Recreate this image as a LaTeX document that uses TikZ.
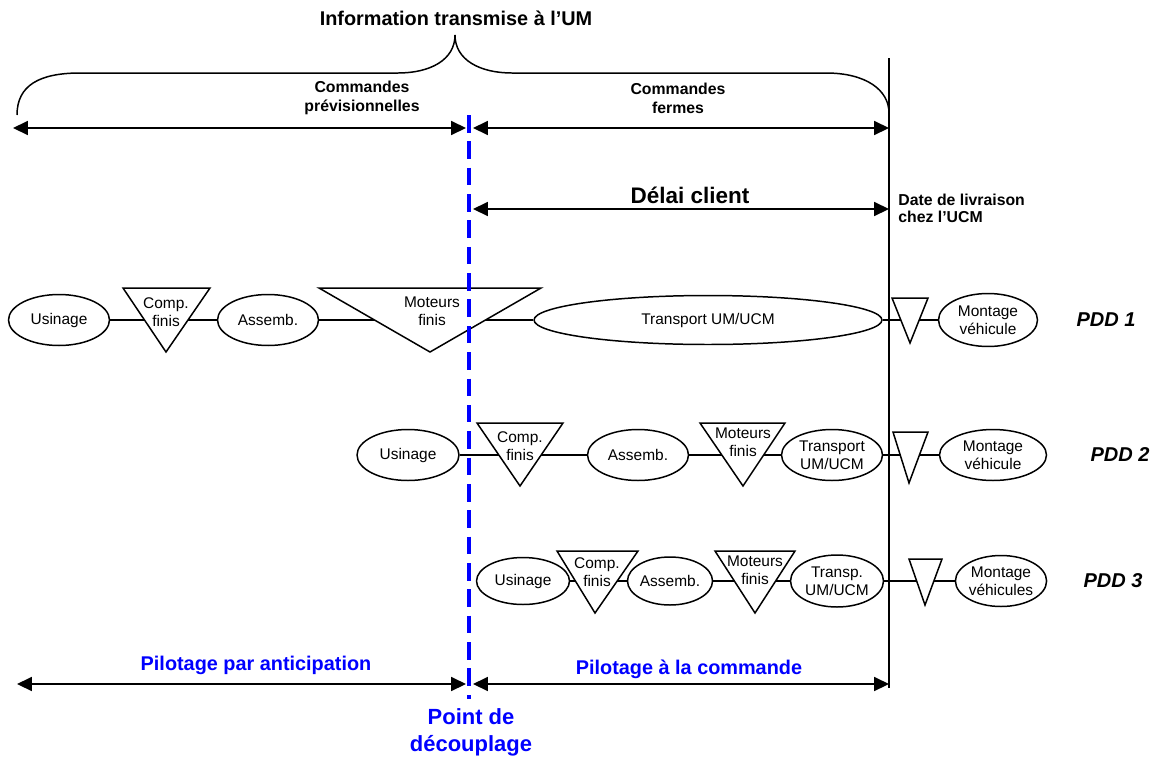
\documentclass[tikz,border=0pt]{standalone}
\usepackage{fontspec}
\setmainfont{Liberation Sans}
\usetikzlibrary{arrows.meta,positioning,calc,backgrounds,shapes.geometric}

\tikzset{
  proc/.style={draw, ellipse, inner sep=0pt, line width=0.85pt, align=center,
    font=\fontsize{8.8}{10}\selectfont},
  stock/.style={draw, fill=white, line width=0.85pt},
  stocktxt/.style={inner sep=0pt, align=center, font=\fontsize{8.8}{10}\selectfont},
  link/.style={line width=0.85pt},
  span/.style={line width=0.85pt, {Triangle[length=8.5pt,width=8pt]}-{Triangle[length=8.5pt,width=8pt]}},
  decoup/.style={blue, line width=1.8pt, dash pattern=on 10pt off 5pt},
  hdr/.style={inner sep=0pt, align=center, font=\bfseries\fontsize{9}{10.8}\selectfont},
  pdd/.style={inner sep=0pt, font=\bfseries\itshape\fontsize{11.4}{13}\selectfont},
  pilot/.style={inner sep=0pt, text=blue, font=\bfseries\fontsize{11.3}{13}\selectfont},
}

\begin{document}
\begin{tikzpicture}[x=0.02cm, y=-0.02cm]
\useasboundingbox (0,0) rectangle (1156,758);

% accolade et textes du haut
\node[inner sep=0pt, font=\bfseries\fontsize{11.3}{13}\selectfont] (info) at (456,18) {Information transmise à l’UM};
\draw[link]
  (17,115) .. controls (17,85) and (40,73) .. (80,73) -- (398,73)
  .. controls (430,73) and (455,60) .. (455,35)
  .. controls (455,60) and (480,73) .. (512,73) -- (826,73)
  .. controls (866,73) and (889,90) .. (889,113);
\node[hdr] (cprev) at (362,98) {Commandes\\prévisionnelles};
\node[hdr] (cferm) at (678,98) {Commandes\\fermes};

% ligne de la date de livraison
\coordinate (ucmT) at (889,58);
\coordinate (ucmB) at (889,688);
\draw[line width=0.7pt] (ucmT) -- (ucmB);

% fleches horizontales
\coordinate (hA) at (13,128);  \coordinate (hB) at (466,128);
\coordinate (hC) at (473,128); \coordinate (hD) at (889,128);
\draw[span] (hA) -- (hB);
\draw[span] (hC) -- (hD);
\coordinate (dA) at (473,209); \coordinate (dB) at (889,209);
\draw[span] (dA) -- (dB);
\node[inner sep=0pt, font=\bfseries\fontsize{12.8}{14}\selectfont] (delai) at (690,195) {Délai client};
\node[inner sep=0pt, anchor=west, align=left, font=\bfseries\fontsize{9}{9.7}\selectfont] (livr) at (898,208) {Date de livraison\\chez l’UCM};
\coordinate (bA) at (17,684);  \coordinate (bB) at (466,684);
\coordinate (bC) at (473,684); \coordinate (bD) at (889,684);
\draw[span] (bA) -- (bB);
\draw[span] (bC) -- (bD);
\node[pilot] (antic) at (256,665) {Pilotage par anticipation};
\node[pilot] (acmd) at (689,669) {Pilotage à la commande};

% PDD 1
\filldraw[stock] (123,288) -- (210,288) -- (166,352) -- cycle;
\node[stocktxt] (c1) at (166,312) {Comp.\\finis};
\filldraw[stock] (319,288) -- (541,288) -- (430,352) -- cycle;
\node[stocktxt] (m1) at (432,311) {Moteurs\\finis};
\filldraw[stock] (892,298) -- (928,298) -- (910,343) -- cycle;
\node[proc, minimum width=2.02cm, minimum height=1.02cm] (us1) at (59,320) {Usinage};
\node[proc, minimum width=2.02cm, minimum height=1.02cm] (as1) at (268,320) {Assemb.};
\node[proc, minimum width=6.96cm, minimum height=0.98cm] (tr1) at (708,320) {Transport UM/UCM};
\node[proc, minimum width=1.98cm, minimum height=1.06cm] (mo1) at (988,320) {Montage\\véhicule};
\node[pdd] (pdd1) at (1106,320) {PDD 1};

% PDD 2
\filldraw[stock] (477,423) -- (563,423) -- (520,486) -- cycle;
\node[stocktxt] (c2) at (520,446) {Comp.\\finis};
\filldraw[stock] (700,423) -- (785,423) -- (743,486) -- cycle;
\node[stocktxt] (m2) at (743,442) {Moteurs\\finis};
\filldraw[stock] (893,432) -- (928,432) -- (909,483) -- cycle;
\node[proc, minimum width=2.04cm, minimum height=1.02cm] (us2) at (408,455) {Usinage};
\node[proc, minimum width=2.02cm, minimum height=1.02cm] (as2) at (638,455) {Assemb.};
\node[proc, minimum width=2.02cm, minimum height=1.02cm] (tr2) at (832,455) {Transport\\UM/UCM};
\node[proc, minimum width=2.14cm, minimum height=1.02cm] (mo2) at (993,455) {Montage\\véhicule};
\node[pdd] (pdd2) at (1120,454) {PDD 2};

% PDD 3
\filldraw[stock] (557,551) -- (638,551) -- (595,613) -- cycle;
\node[stocktxt] (c3) at (597,572) {Comp.\\finis};
\filldraw[stock] (715,551) -- (795,551) -- (755,613) -- cycle;
\node[stocktxt] (m3) at (755,570) {Moteurs\\finis};
\filldraw[stock] (909,559) -- (942,559) -- (925,605) -- cycle;
\node[proc, minimum width=1.86cm, minimum height=0.94cm] (us3) at (523,581) {Usinage};
\node[proc, minimum width=1.62cm, minimum height=0.96cm] (as3) at (670,581) {Assemb.};
\node[proc, minimum width=1.86cm, minimum height=1.04cm] (tp3) at (837,581) {Transp.\\UM/UCM};
\node[proc, minimum width=1.80cm, minimum height=1.02cm] (mo3) at (1001,581) {Montage\\véhicules};
\node[pdd] (pdd3) at (1113,581) {PDD 3};

% liaisons sous les stocks
\begin{scope}[on background layer]
  \draw[link] (us1) -- (as1);
  \draw[link] (as1) -- (tr1);
  \draw[link] (tr1) -- (mo1);
  \draw[link] (us2) -- (as2);
  \draw[link] (as2) -- (tr2);
  \draw[link] (tr2) -- (mo2);
  \draw[link] (us3) -- (as3);
  \draw[link] (as3) -- (tp3);
  \draw[link] (tp3) -- (mo3);
\end{scope}

% point de decouplage
\coordinate (decT) at (469,115);
\coordinate (decB) at (469,699);
\draw[decoup] (decT) -- (decB);
\node[inner sep=0pt, align=center, text=blue, font=\bfseries\fontsize{12.5}{15.4}\selectfont] (point) at (471,732) {Point de\\découplage};
\end{tikzpicture}
\end{document}
